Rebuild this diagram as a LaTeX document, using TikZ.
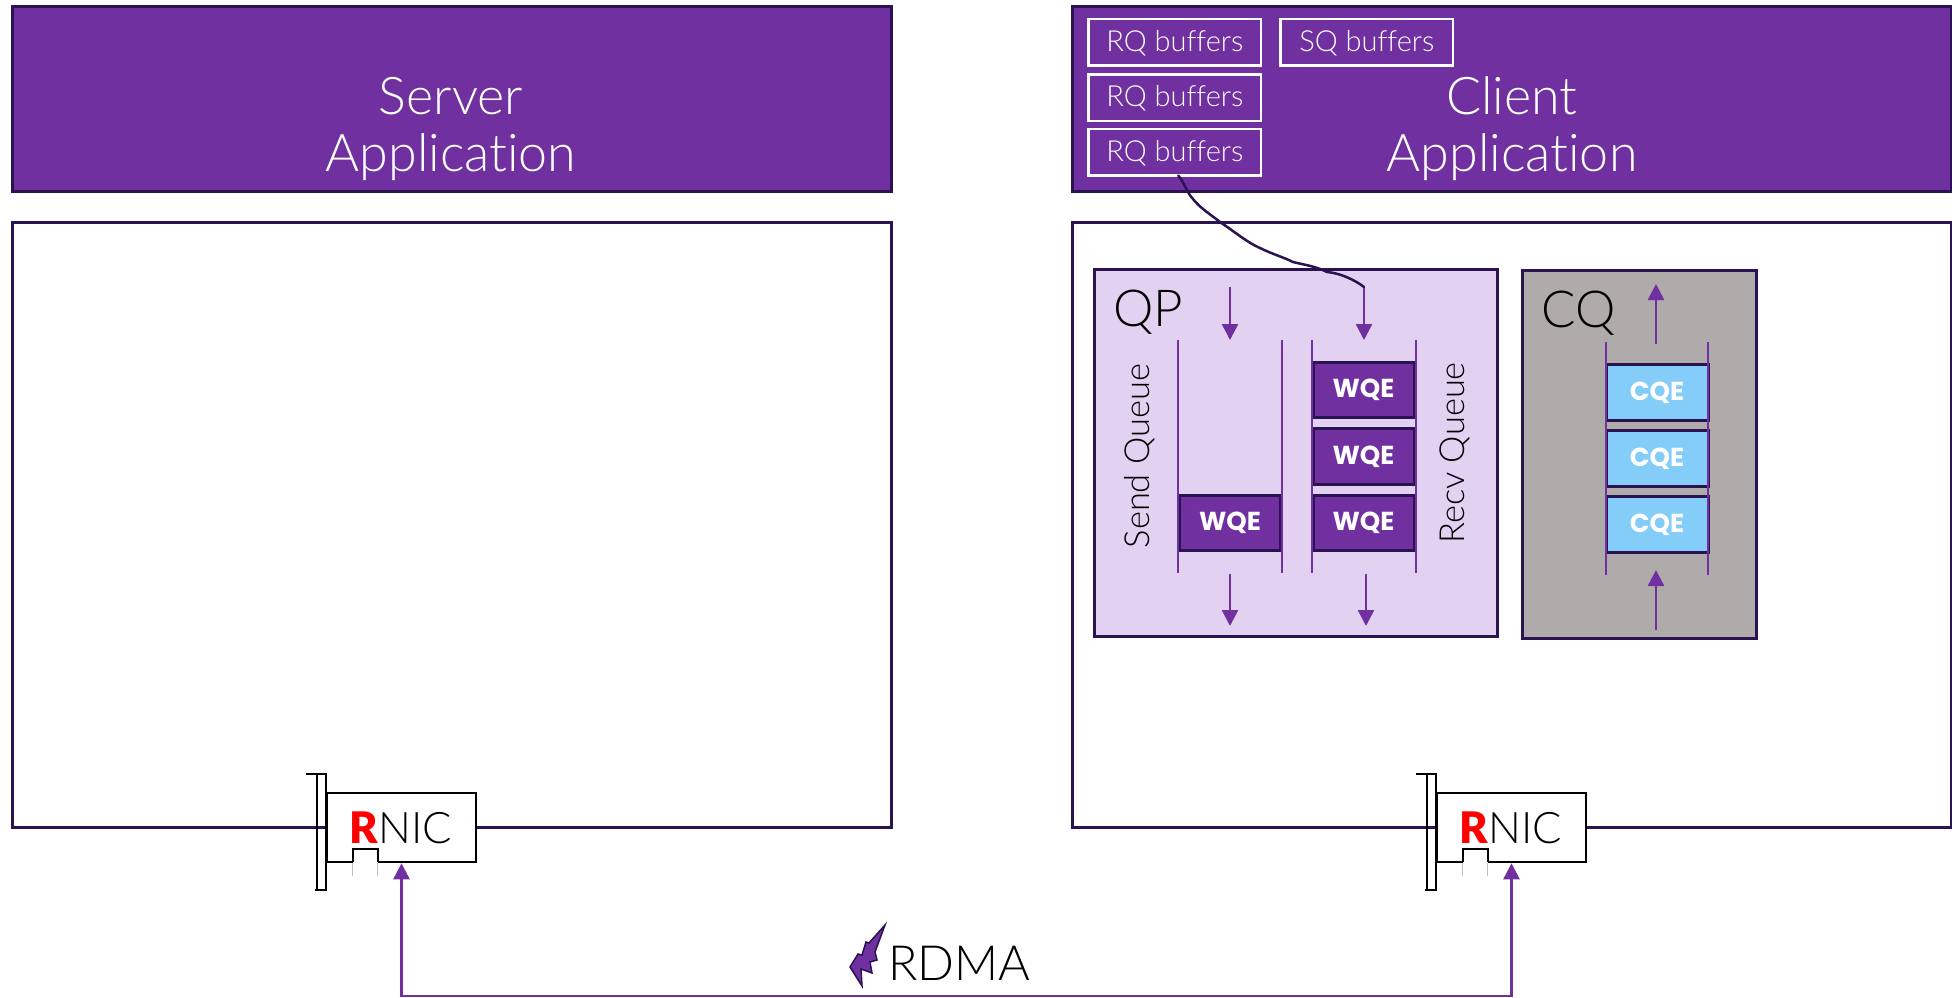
\documentclass[tikz,border=0pt]{standalone}
\usepackage{fontspec}
\setmainfont{Lato}[UprightFont=* Light,BoldFont=* Black,Ligatures=NoCommon]
\newfontfamily\entryfamily{Poppins}[UprightFont=* Bold]
\usetikzlibrary{positioning,arrows.meta,calc}
\definecolor{rdmapurple}{HTML}{7030A0}
\definecolor{rdmadark}{HTML}{2B1250}
\definecolor{qplilac}{HTML}{E2D1F1}
\definecolor{cqgrey}{HTML}{AFABAB}
\definecolor{cqeblue}{HTML}{85CDF9}
\newcommand{\bigfont}{\fontsize{52}{57}\selectfont}
\newcommand{\midfont}{\fontsize{51}{55}\selectfont}
\newcommand{\linkfont}{\fontsize{48.5}{52}\selectfont}
\newcommand{\smallfont}{\fontsize{29}{30}\selectfont}
\newcommand{\sidefont}{\fontsize{34.5}{36}\selectfont}
\newcommand{\entryfont}{\fontsize{26}{28}\entryfamily\selectfont}
\tikzset{
	set/.style={draw=rdmadark,line width=3pt,inner sep=0pt,align=center},
	app/.style={set,fill=rdmapurple,minimum height=185pt},
	applabel/.style={inner sep=0pt,align=center,text=white,font=\bigfont},
	host/.style={set,fill=white,minimum height=605.5pt},
	buffers/.style={draw=white,line width=2.5pt,inner sep=0pt,text=white,font=\smallfont,minimum width=172.5pt,minimum height=46.5pt},
	wqe/.style={draw=rdmadark,line width=3pt,fill=rdmapurple,text=white,inner sep=0pt,font=\entryfont,minimum width=101pt,minimum height=55.5pt},
	cqe/.style={wqe,fill=cqeblue,minimum width=102pt,minimum height=56pt},
	rail/.style={draw=rdmapurple,line width=2.5pt},
	flow/.style={rail,-{Triangle[width=16pt,length=16pt]}},
	rnic/.style={draw=black,line width=2.5pt}
}
\begin{document}
\begin{tikzpicture}[x=1pt,y=-1pt]
		\useasboundingbox (0,0) rectangle (1952,997);
		% Draw hosts
		\node[app, minimum width=879.5pt] (server) at (452,99) {};
		\node[app, minimum width=878.5pt] (client) at (1511.75,99) {};
		\node[applabel] (serverlabel) at (451,129) {Server\\Application};
		\node[applabel] (clientlabel) at (1512,129) {Client\\Application};
		\node[host, minimum width=879.5pt] (serverhost) at (452,524.75) {};
		\node[host, minimum width=878.5pt] (clienthost) at (1511.75,524.75) {};
		% Draw buffers
		\node[buffers, text height=22pt, text depth=4pt] (rq1) at (1174.75,42) {RQ buffers};
		\node[buffers, text height=22pt, text depth=4pt, below = 6.5pt of rq1] (rq2) {RQ buffers};
		\node[buffers, text height=22pt, text depth=4pt, below = 5.5pt of rq2] (rq3) {RQ buffers};
		\node[buffers, text height=22pt, text depth=4pt, right = 17pt of rq1] (sq) {SQ buffers};
		% Draw QP
		\node[set, fill=qplilac, minimum width=402.5pt, minimum height=367pt] (qp) at (1295.75,453) {};
		\node[font=\midfont, inner sep=0pt, anchor=north west] (qplabel) at (1113,290) {QP};
		\node[font=\sidefont, inner sep=0pt, rotate=90] (sendlabel) at (1140,456) {Send Queue};
		\node[font=\sidefont, inner sep=0pt, rotate=90] (recvlabel) at (1455,453) {Recv Queue};
		\node[wqe] (swqe) at (1230,523) {WQE};
		\node[wqe] (rwqe3) at (1363.5,523) {WQE};
		\node[wqe, above = 8pt of rwqe3] (rwqe2) {WQE};
		\node[wqe, above = 8pt of rwqe2] (rwqe1) {WQE};
		\coordinate (sqtl) at (1178,340);
		\coordinate (sqtr) at (1282,340);
		\coordinate (rqtl) at (1312,340);
		\coordinate (rqtr) at (1416,340);
		\foreach \top in {sqtl,sqtr,rqtl,rqtr}
			\draw[rail] (\top) -- ++(0,233);
		% Draw CQ
		\node[set, fill=cqgrey, minimum width=234pt, minimum height=368pt] (cq) at (1639.5,454.5) {};
		\node[font=\midfont, inner sep=0pt, anchor=north west] (cqlabel) at (1541,291) {CQ};
		\node[cqe] (cqe3) at (1657,524.5) {CQE};
		\node[cqe, above = 7pt of cqe3] (cqe2) {CQE};
		\node[cqe, above = 7pt of cqe2] (cqe1) {CQE};
		\coordinate (cqtl) at (1606,342);
		\coordinate (cqtr) at (1708,342);
		\foreach \top in {cqtl,cqtr}
			\draw[rail] (\top) -- ++(0,233);
		% Draw queue arrows
		\coordinate (sin) at (1230,287);
		\coordinate (sintip) at (1230,340);
		\coordinate (rin) at (1364,287);
		\coordinate (rintip) at (1364,340);
		\coordinate (sout) at (1230,574);
		\coordinate (souttip) at (1230,626);
		\coordinate (rout) at (1366,574);
		\coordinate (routtip) at (1366,626);
		\coordinate (cin) at (1656,630);
		\coordinate (cintip) at (1656,570);
		\coordinate (cout) at (1656,344);
		\coordinate (couttip) at (1656,284);
		\draw[flow] (sin) -- (sintip);
		\draw[flow] (rin) -- (rintip);
		\draw[flow] (sout) -- (souttip);
		\draw[flow] (rout) -- (routtip);
		\draw[flow] (cin) -- (cintip);
		\draw[flow] (cout) -- (couttip);
		% Draw hand line from buffers to queue
		\draw[draw=rdmadark, line width=2.5pt, line cap=round] (rq3.south) ++(3.5,-1)
			.. controls (1184,182) and (1187,193) .. (1193,199)
			.. controls (1200,208) and (1210,214) .. (1220,222)
			.. controls (1235,232) and (1248,243) .. (1260,248)
			.. controls (1272,254) and (1283,257) .. (1293,262)
			.. controls (1305,265) and (1315,266) .. (1327,272)
			.. controls (1340,273) and (1355,280) .. (rin);
		% Draw cards
		\foreach \name/\shift in {s/0,c/1110} {
			\begin{scope}[xshift=\shift pt]
				\node[rnic, fill=white, minimum width=149pt, minimum height=69pt, inner sep=0pt] (\name nic) at (401.5,827.5) {};
				\node[font=\fontsize{43.5}{44}\selectfont, inner sep=0pt] (\name niclabel) at (401,828) {\textcolor{red}{\textbf{R}}NIC};
				\draw[rnic] (306,774) -- (326,774) -- (326,890) -- (315,890);
				\draw[rnic] (317,774) -- (317,890);
				\draw[white, line width=2.5pt] (\name nic.south west) ++(27,-1.25) -- ++(25,0);
				\draw[rnic] (\name nic.south west) ++(27,-1.25) -- ++(0,-13) -- ++(25,0) -- ++(0,13);
				\draw[lightgray, line width=0.7pt] (\name nic.south west) ++(27,0) -- ++(0,13);
				\draw[lightgray, line width=0.7pt] (\name nic.south west) ++(52,0) -- ++(0,13);
			\end{scope}
		}
		% Draw link
		\coordinate (linkbend) at (756,996);
		\draw[flow] (linkbend) -| (snic.south);
		\draw[flow] (linkbend) -| (cnic.south);
		\node[font=\linkfont, inner sep=0pt, anchor=west] (rdma) at (888,963) {RDMA};
		\draw[draw=rdmadark, fill=rdmapurple, line width=1.5pt, line join=miter] (885,925) -- (869,943) -- (866,942) -- (862,955) -- (858,954) -- (850,967) -- (862,986) -- (861,969) -- (872,973) -- (870,962) -- (877,960) -- (875,952) -- cycle;
	\end{tikzpicture}
\end{document}
